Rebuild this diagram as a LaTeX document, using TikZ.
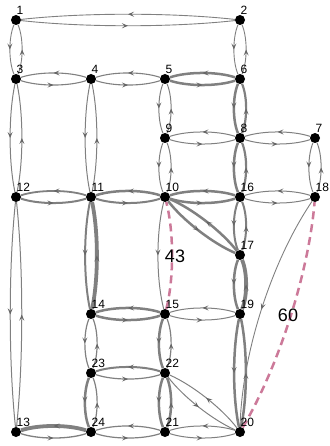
\documentclass[tikz,border=0pt]{standalone}
\usepackage{fontspec}
\setmainfont{Liberation Sans}
\usetikzlibrary{calc,decorations.markings,arrows.meta,backgrounds}
\definecolor{pinkc}{RGB}{204,121,153}
\newcommand\lnk[4][7.5]{\draw[edge,line width=#4pt] (#2) .. controls ($(#2)!0.3!(#3)!#1pt!-90:(#3)$) and ($(#3)!0.3!(#2)!#1pt!90:(#2)$) .. (#3);}
\newcommand\rmv[3][7.5]{\draw[rem] (#2) .. controls ($(#2)!0.3!(#3)!#1pt!-90:(#3)$) and ($(#3)!0.3!(#2)!#1pt!90:(#2)$) .. (#3);}
\newcommand\V[3]{\node[vtx] (n#1) at (#2,#3) {}; \node[lbl] (t#1) at ($(n#1)+(0.5,-5.5)$) {#1};}
\begin{document}
\begin{tikzpicture}[x=1pt,y=-1pt,
 vtx/.style={circle,fill=black,inner sep=0pt,minimum size=10pt},
 lbl/.style={font=\fontsize{12}{12}\selectfont,inner sep=0pt,anchor=south west},
 edge/.style={draw=black!50, postaction={decorate}, decoration={markings, mark=at position 0.5 with {\arrow[black!60]{Stealth[length=6pt,width=5pt,inset=2.5pt]}}}},
 rem/.style={draw=pinkc, line width=2.5pt, dash pattern=on 8pt off 5pt},
 big/.style={font=\fontsize{18}{18}\selectfont,inner sep=0pt}
]
\useasboundingbox (0,0) rectangle (329,446);
\V{1}{16}{20}
\V{2}{240}{20}
\V{3}{16}{79}
\V{4}{91}{79}
\V{5}{165}{79}
\V{6}{240}{79}
\V{7}{315}{138}
\V{8}{240}{138}
\V{9}{165}{138}
\V{10}{165}{197}
\V{11}{91}{197}
\V{12}{16}{197}
\V{13}{16}{432}
\V{14}{91}{314}
\V{15}{165}{314}
\V{16}{240}{197}
\V{17}{240}{255}
\V{18}{315}{197}
\V{19}{240}{314}
\V{20}{240}{432}
\V{21}{165}{432}
\V{22}{165}{373}
\V{23}{91}{373}
\V{24}{91}{432}
\begin{scope}[on background layer]
\lnk{n1}{n2}{0.9} \lnk{n2}{n1}{0.9}
\lnk{n1}{n3}{0.9} \lnk{n3}{n1}{0.9}
\lnk{n2}{n6}{0.9} \lnk{n6}{n2}{0.9}
\lnk{n3}{n4}{1.1} \lnk{n4}{n3}{1.1}
\lnk{n3}{n12}{1} \lnk{n12}{n3}{1}
\lnk{n4}{n5}{1.1} \lnk{n5}{n4}{1.1}
\lnk{n4}{n11}{1} \lnk{n11}{n4}{1}
\lnk{n5}{n6}{2.5} \lnk{n6}{n5}{2.5}
\lnk{n5}{n9}{1} \lnk{n9}{n5}{1}
\lnk{n6}{n8}{2.5} \lnk{n8}{n6}{2.2}
\lnk{n7}{n8}{1} \lnk{n8}{n7}{1}
\lnk{n7}{n18}{1} \lnk{n18}{n7}{1}
\lnk{n8}{n9}{1} \lnk{n9}{n8}{1}
\lnk{n8}{n16}{2.5} \lnk{n16}{n8}{2.2}
\lnk{n9}{n10}{1} \lnk{n10}{n9}{1}
\lnk{n10}{n11}{2.5} \lnk{n11}{n10}{2}
\lnk{n10}{n16}{2.5} \lnk{n16}{n10}{2.5}
\lnk{n10}{n17}{2.5} \lnk{n17}{n10}{2.5}
\lnk[9]{n10}{n15}{1}
\lnk{n11}{n12}{1.8} \lnk{n12}{n11}{2}
\lnk{n11}{n14}{2} \lnk{n14}{n11}{3.8}
\lnk{n12}{n13}{1} \lnk{n13}{n12}{1}
\lnk{n13}{n24}{1.3} \lnk{n24}{n13}{3.8}
\lnk{n14}{n15}{2.5} \lnk{n15}{n14}{2.5}
\lnk{n14}{n23}{1.2} \lnk{n23}{n14}{1.2}
\lnk{n15}{n19}{1} \lnk{n19}{n15}{1}
\lnk{n15}{n22}{2.5} \lnk{n22}{n15}{1.2}
\lnk{n16}{n17}{2} \lnk{n17}{n16}{2}
\lnk{n16}{n18}{1} \lnk{n18}{n16}{1}
\lnk{n17}{n19}{2.5} \lnk{n19}{n17}{3.8}
\lnk[22]{n18}{n20}{0.9}
\lnk{n19}{n20}{2.5} \lnk{n20}{n19}{2.5}
\lnk{n20}{n21}{1} \lnk{n21}{n20}{1}
\lnk{n20}{n22}{1} \lnk{n22}{n20}{1}
\lnk{n21}{n22}{2.5} \lnk{n22}{n21}{2.5}
\lnk{n21}{n24}{1.2} \lnk{n24}{n21}{1.2}
\lnk{n22}{n23}{2} \lnk{n23}{n22}{1.2}
\lnk{n23}{n24}{2.5} \lnk{n24}{n23}{1.2}
\rmv[9]{n15}{n10}
\rmv[17]{n20}{n18}
\end{scope}
\node[big] (w43) at (175,256) {43};
\node[big] (w60) at (288,315) {60};
\end{tikzpicture}
\end{document}
